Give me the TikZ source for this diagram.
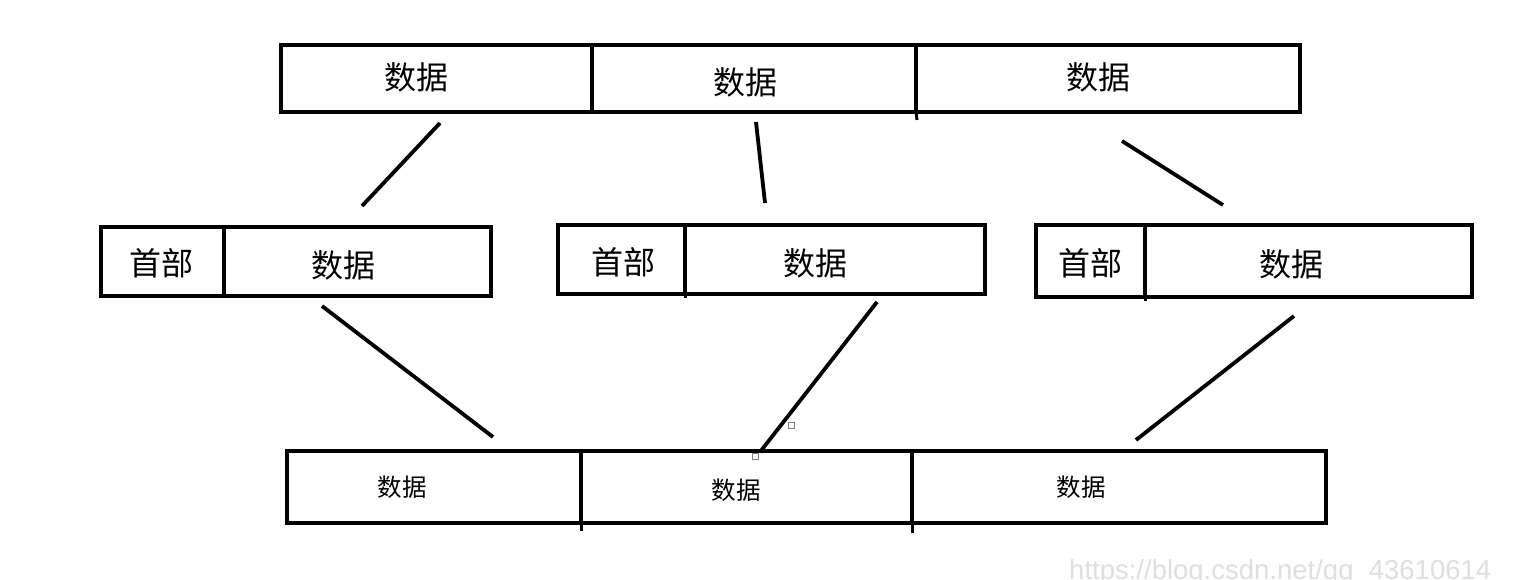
\documentclass[tikz,border=0pt]{standalone}
\usepackage{fontspec}
\newfontfamily\cjk{Noto Sans CJK SC}
\newfontfamily\wm{Liberation Sans}
\begin{document}
\begin{tikzpicture}[x=1pt,y=-1pt,
  cell/.style={draw, line width=3.5pt, inner sep=0pt, outer sep=0pt, anchor=north west},
  big/.style={font=\cjk\fontsize{32}{32}\selectfont, inner sep=0pt},
  small/.style={font=\cjk\fontsize{24.5}{24.5}\selectfont, inner sep=0pt},
  link/.style={line width=3.8pt},
  handle/.style={draw=gray, fill=white, line width=0.8pt, minimum size=6pt, inner sep=0pt}]
\fill[white] (0,0) rectangle (1525,579);
\useasboundingbox (0,0) rectangle (1525,579);
% top row
\node[cell, minimum width=311pt, minimum height=67pt] (t1) at (281,45) {};
\node[cell, minimum width=324pt, minimum height=67pt] (t2) at (592,45) {};
\node[cell, minimum width=384pt, minimum height=67pt] (t3) at (916,45) {};
\coordinate (t3ext) at (917,120);
\draw[line width=3pt] (t3.south west) -- (t3ext);
\node[big] (tt1) at (416,77) {数据};
\node[big] (tt2) at (745,82) {数据};
\node[big] (tt3) at (1098,77) {数据};
% middle row
\node[cell, minimum width=123pt, minimum height=69pt] (a1) at (101,227) {};
\node[cell, minimum width=267pt, minimum height=69pt] (a2) at (224,227) {};
\node[cell, minimum width=127pt, minimum height=69pt] (b1) at (558,225) {};
\node[cell, minimum width=300pt, minimum height=69pt] (b2) at (685,225) {};
\node[cell, minimum width=109pt, minimum height=72pt] (c1) at (1036,225) {};
\node[cell, minimum width=327pt, minimum height=72pt] (c2) at (1145,225) {};
\coordinate (b2ext) at (685,298);
\coordinate (c2ext) at (1145,301);
\draw[line width=3pt] (b2.south west) -- (b2ext);
\draw[line width=3pt] (c2.south west) -- (c2ext);
\node[big] (ta1) at (161,263) {首部};
\node[big] (ta2) at (343,265) {数据};
\node[big] (tb1) at (623,262) {首部};
\node[big] (tb2) at (815,263) {数据};
\node[big] (tc1) at (1090,263) {首部};
\node[big] (tc2) at (1291,264) {数据};
% bottom row
\node[cell, minimum width=294pt, minimum height=72pt] (d1) at (287,451) {};
\node[cell, minimum width=331pt, minimum height=72pt] (d2) at (581,451) {};
\node[cell, minimum width=414pt, minimum height=72pt] (d3) at (912,451) {};
\coordinate (d2ext) at (581,531);
\coordinate (d3ext) at (912,533);
\draw[line width=3pt] (d2.south west) -- (d2ext);
\draw[line width=3pt] (d3.south west) -- (d3ext);
\node[small] (td1) at (402,487) {数据};
\node[small] (td2) at (736,490) {数据};
\node[small] (td3) at (1081,487) {数据};
% connectors top -> middle
\coordinate (p1a) at (440,123); \coordinate (p1b) at (362,206);
\coordinate (p2a) at (756,122); \coordinate (p2b) at (765,203);
\coordinate (p3a) at (1122,141); \coordinate (p3b) at (1223,205);
\draw[link] (p1a) -- (p1b);
\draw[link] (p2a) -- (p2b);
\draw[link] (p3a) -- (p3b);
% connectors middle -> bottom
\coordinate (q1a) at (322,306); \coordinate (q1b) at (493,437);
\coordinate (q2a) at (877,302); \coordinate (q2b) at (760,452);
\coordinate (q3a) at (1294,316); \coordinate (q3b) at (1136,440);
\draw[link] (q1a) -- (q1b);
\draw[link] (q2a) -- (q2b);
\draw[link] (q3a) -- (q3b);
\node[handle] (h1) at (791,425) {};
\node[handle] (h2) at (755,456) {};
% watermark
\node[anchor=north west, inner sep=0pt, text=gray!25, font=\wm\fontsize{27.5}{27.5}\selectfont] (wmk) at (1069,559) {https://blog.csdn.net/qq\_43610614};
\end{tikzpicture}
\end{document}
